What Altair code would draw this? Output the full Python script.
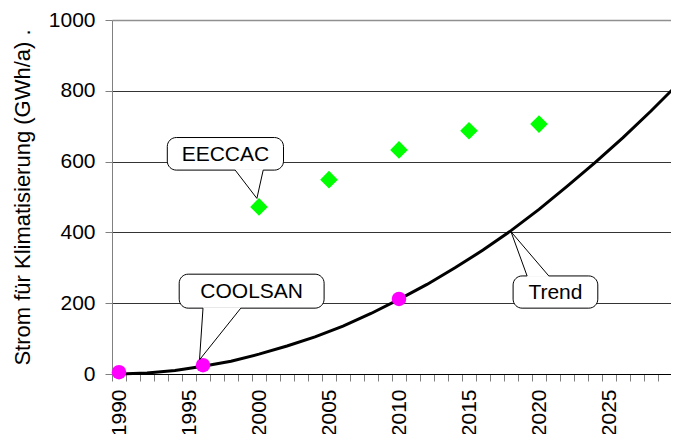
import altair as alt
import pandas as pd

# Trend line
trend_years = [1990, 1992, 1994, 1996, 1998, 2000, 2002, 2004, 2006, 2008, 2010,
               2012, 2014, 2016, 2018, 2020, 2022, 2024, 2026, 2028, 2030]
trend_values = [0, 3, 10, 22, 36, 56, 79, 105, 135, 171, 211,
                253, 300, 350, 405, 465, 530, 597, 668, 743, 822]

# COOLSAN points (magenta)
coolsan_years = [1990, 1996, 2010]
coolsan_values = [5, 25, 212]

# EECCAC points (green diamonds)
eeccac_years = [2000, 2005, 2010, 2015, 2020]
eeccac_values = [472, 549, 633, 687, 706]

# Callouts (in data units)
callout_labels = ["EECCAC", "COOLSAN", "Trend"]
box_x1 = [1993.45, 1994.3, 2018.15]
box_x2 = [2001.75, 2004.65, 2024.2]
box_y1 = [576, 186, 186]
box_y2 = [668, 282, 277]
ptr_a_x = [1998.3, 1996.0, 2019.15]
ptr_b_x = [2000.3, 1998.7, 2020.7]
ptr_base_y = [576, 186, 277]
ptr_tip_x = [1999.85, 1995.75, 2018.0]
ptr_tip_y = [496, 40, 402]

FONT = "Liberation Sans"

trend_df = pd.DataFrame({"year": trend_years, "value": trend_values})
coolsan_df = pd.DataFrame({"year": coolsan_years, "value": coolsan_values})
eeccac_df = pd.DataFrame({"year": eeccac_years, "value": eeccac_values})

box_df = pd.DataFrame({"label": callout_labels, "x1": box_x1, "x2": box_x2,
                       "y1": box_y1, "y2": box_y2})
box_df["xc"] = (box_df["x1"] + box_df["x2"]) / 2
box_df["yc"] = (box_df["y1"] + box_df["y2"]) / 2

ptr_rows = []
for i in range(len(callout_labels)):
    for bx in (ptr_a_x[i], ptr_b_x[i]):
        ptr_rows.append({"x": bx, "y": ptr_base_y[i], "x2": ptr_tip_x[i], "y2": ptr_tip_y[i]})
ptr_df = pd.DataFrame(ptr_rows)
base_df = pd.DataFrame({"x": ptr_a_x, "x2": ptr_b_x, "y": ptr_base_y})

# category-style axis: each year sits in the middle of a 14px slot
xscale = alt.Scale(domain=[1989.5, 2030.5], range=[0, 574], nice=False, zero=False)
yscale = alt.Scale(domain=[0, 1000], nice=False)

x_axis = alt.Axis(
    values=list(range(1990, 2031)),
    labelExpr="datum.value % 5 == 0 ? datum.value : ''",
    tickOffset=-7, labelOffset=7,
    labelAngle=270, labelAlign="right", labelBaseline="middle",
    labelPadding=8, tickSize=7, tickColor="#808080", domainColor="black",
    grid=False, title=None, labelFontSize=21, labelFont=FONT, labelColor="black",
    labelOverlap=False, labelFlush=False,
)
y_axis = alt.Axis(
    values=[0, 200, 400, 600, 800, 1000], format="d", grid=True,
    gridColor=alt.condition("datum.value == 1000", alt.value("#909090"), alt.value("black")),
    gridWidth=alt.condition("datum.value == 1000", alt.value(1.5), alt.value(0.8)),
    domainColor="#808080", tickColor="#808080", tickSize=7,
    labelFontSize=21, labelFont=FONT, labelColor="black", labelPadding=10,
    title="Strom für Klimatisierung (GWh/a)  .", titleFont=FONT,
    titleFontSize=22, titleFontWeight="normal", titleColor="black",
    titlePadding=14,
)


def X(field):
    return alt.X(field, scale=xscale, axis=x_axis)


def Y(field):
    return alt.Y(field, scale=yscale, axis=y_axis)


trend = alt.Chart(trend_df).mark_line(color="black", strokeWidth=3).encode(
    x=X("year:Q"), y=Y("value:Q"),
)

coolsan = alt.Chart(coolsan_df).mark_point(
    shape="circle", filled=True, color="#FF00FF", size=210, opacity=1
).encode(x=X("year:Q"), y=Y("value:Q"))

eeccac = alt.Chart(eeccac_df).mark_point(
    shape="diamond", filled=True, color="#00FF00", size=310, opacity=1
).encode(x=X("year:Q"), y=Y("value:Q"))

boxes = alt.Chart(box_df).mark_rect(
    cornerRadius=9, fill="white", stroke="black", strokeWidth=1
).encode(x=X("x1:Q"), x2="x2:Q", y=Y("y1:Q"), y2="y2:Q")

base_cover = alt.Chart(base_df).mark_rule(color="white", strokeWidth=2).encode(
    x=X("x:Q"), x2="x2:Q", y=Y("y:Q"),
)

pointers = alt.Chart(ptr_df).mark_rule(color="black", strokeWidth=1).encode(
    x=X("x:Q"), x2="x2:Q", y=Y("y:Q"), y2="y2:Q",
)

texts = alt.Chart(box_df).mark_text(
    font=FONT, fontSize=21, color="black", align="center", baseline="middle", dy=1
).encode(x=X("xc:Q"), y=Y("yc:Q"), text="label:N")

chart = alt.layer(trend, eeccac, coolsan, boxes, base_cover, pointers, texts).properties(
    width=559, height=354,
    autosize=alt.AutoSizeParams(type="none"),
    padding={"left": 104, "top": 12, "right": 0, "bottom": 60},
    background="white",
).configure_view(stroke=None)

chart.save("out.html", embed_options={"renderer": "svg", "actions": False})
